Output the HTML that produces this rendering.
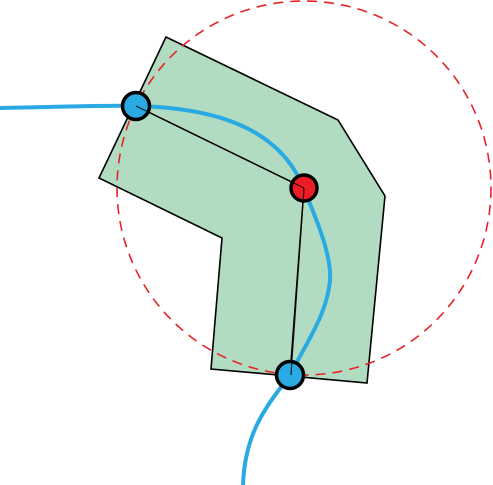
<!DOCTYPE html>
<html><head><meta charset="utf-8"><style>html,body{margin:0;padding:0;background:#fff}svg{display:block}</style></head>
<body>
<svg width="493" height="485" viewBox="0 0 493 485">
<polygon points="166,37 338,120 385,196 367,383 211,369 222,238 99,178" fill="#b2dcc2" stroke="#000" stroke-width="1.6"/>
<circle cx="304" cy="188" r="187" fill="none" stroke="#e8232a" stroke-width="1.6" stroke-dasharray="10,7"/>
<path d="M0,108 C60,107 110,105 136,106 C220,108 275,130 300,180 C315,215 332,255 330,280 C327,315 305,345 290,375 C268,405 245,430 243,485" fill="none" stroke="#29aae2" stroke-width="4"/>
<line x1="136" y1="106" x2="304" y2="188" stroke="#000" stroke-width="1.5"/>
<line x1="304" y1="188" x2="290" y2="375" stroke="#000" stroke-width="1.5"/>
<circle cx="136" cy="106" r="13.5" fill="#29aae2" stroke="#000" stroke-width="3.5"/>
<circle cx="304" cy="188" r="13" fill="#ee1c25" stroke="#000" stroke-width="3.5"/>
<circle cx="290" cy="375" r="13.5" fill="#29aae2" stroke="#000" stroke-width="3.5"/>
<line x1="136" y1="106" x2="304" y2="188" stroke="#000" stroke-width="1.2" opacity="0.8"/>
<line x1="304" y1="188" x2="291" y2="375" stroke="#000" stroke-width="1.2" opacity="0.8"/>
</svg>
</body></html>
